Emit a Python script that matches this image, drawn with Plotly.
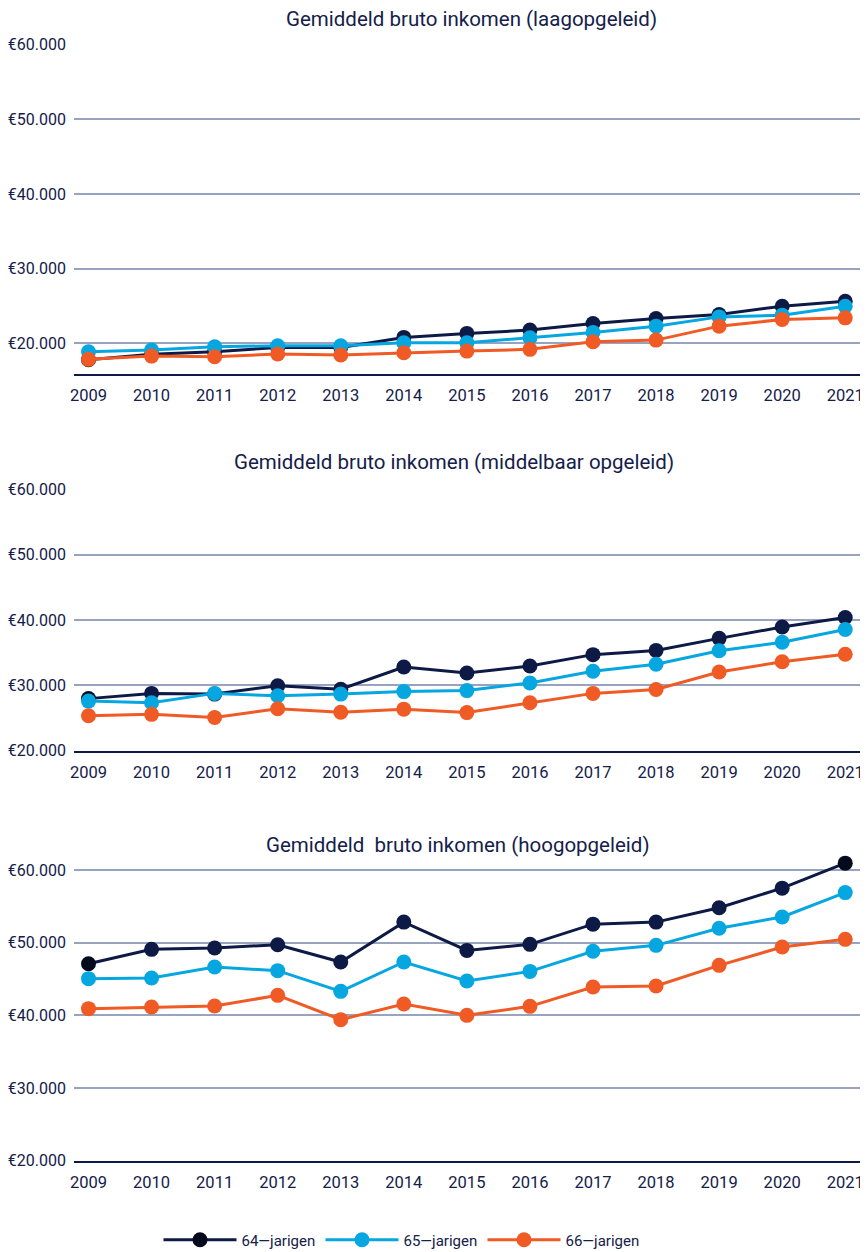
import plotly.graph_objects as go

years = [2009, 2010, 2011, 2012, 2013, 2014, 2015, 2016, 2017, 2018, 2019, 2020, 2021]
series_names = ["64\u2014jarigen", "65\u2014jarigen", "66\u2014jarigen"]

# Gemiddeld bruto inkomen (laagopgeleid)
laag_64 = [17800, 18530, 18880, 19460, 19460, 20800, 21340, 21780, 22670, 23340, 23870, 24980, 25650]
laag_65 = [18880, 19100, 19550, 19680, 19680, 20080, 20080, 20750, 21470, 22310, 23550, 23780, 24980]
laag_66 = [17860, 18300, 18210, 18570, 18440, 18750, 18970, 19200, 20220, 20440, 22310, 23200, 23420]

# Gemiddeld bruto inkomen (middelbaar opgeleid)
midd_64 = [27970, 28770, 28660, 29950, 29410, 32810, 31890, 32970, 34700, 35350, 37190, 38920, 40380]
midd_65 = [27590, 27330, 28770, 28400, 28660, 29040, 29200, 30370, 32160, 33240, 35300, 36590, 38540]
midd_66 = [25350, 25560, 25080, 26420, 25880, 26360, 25830, 27330, 28770, 29360, 32050, 33620, 34760]

# Gemiddeld bruto inkomen (hoogopgeleid)
hoog_64 = [47110, 49080, 49270, 49720, 47340, 52830, 48940, 49770, 52550, 52830, 54810, 57500, 60940]
hoog_65 = [45050, 45140, 46650, 46150, 43300, 47340, 44720, 46050, 48810, 49630, 51980, 53540, 56890]
hoog_66 = [40920, 41150, 41280, 42750, 39410, 41560, 40000, 41240, 43900, 44040, 46880, 49400, 50460]

titles = [
    "Gemiddeld bruto inkomen (laagopgeleid)",
    "Gemiddeld bruto inkomen (middelbaar opgeleid)",
    "Gemiddeld  bruto inkomen (hoogopgeleid)",
]
ytick_vals = [20000, 30000, 40000, 50000, 60000]
ytick_text = ["\u20ac20.000", "\u20ac30.000", "\u20ac40.000", "\u20ac50.000", "\u20ac60.000"]

W, H = 868, 1252
OFF = 8  # page body margin offset in the browser
FONT = "Roboto, Liberation Sans, sans-serif"
NAVY = "#0d1a45"
BLACK = "#050a1c"
TXT = "#14204a"
GRID = "#98a3bf"
colors = ["#0d1a45", "#06a7e0", "#f05a24"]

panels = [
    dict(data=[laag_64, laag_65, laag_66], top=44.7, bottom=374.3, yr=[15860, 60000],
         title_y=19.5, title_x=471),
    dict(data=[midd_64, midd_65, midd_66], top=489.3, bottom=750.7, yr=[20000, 60000],
         title_y=462, title_x=454),
    dict(data=[hoog_64, hoog_65, hoog_66], top=859.1, bottom=1160.7, yr=[20000, 61500],
         title_y=845, title_x=457.5),
]

x0_px, x1_px = 74 - OFF, 861 - OFF
xr = [2008.77, 2021.25]


def fy(px):
    return 1 - (px - OFF) / H


fig = go.Figure()
annotations = []
for i, p in enumerate(panels):
    idx = "" if i == 0 else str(i + 1)
    for s in range(3):
        mcol = colors[s]
        if s == 0:
            mcol = [colors[0]] * len(years)
            mcol[0] = BLACK
            if i == 2:
                mcol[-1] = BLACK
        fig.add_trace(go.Scatter(
            x=years, y=p["data"][s], mode="lines+markers",
            name=series_names[s], legendgroup=series_names[s],
            showlegend=(i == 0),
            line=dict(color=colors[s], width=3),
            marker=dict(color=mcol, size=15),
            xaxis="x" + idx, yaxis="y" + idx, cliponaxis=False,
        ))
    fig.layout["xaxis" + idx] = dict(
        domain=[x0_px / W, x1_px / W], range=xr, anchor="y" + idx,
        tickvals=years, ticktext=[str(y) for y in years],
        showgrid=False, zeroline=False, showline=True, linecolor=NAVY, linewidth=2,
        ticks="", tickfont=dict(family=FONT, size=16.5, color=TXT),
        ticklabelstandoff=5, automargin=False, ticklabeloverflow="allow",
    )
    fig.layout["yaxis" + idx] = dict(
        domain=[fy(p["bottom"]), fy(p["top"])], range=p["yr"], anchor="x" + idx,
        tickvals=ytick_vals, ticktext=ytick_text,
        showgrid=True, gridcolor=GRID, gridwidth=1.5, zeroline=False, showline=False,
        ticks="", tickfont=dict(family=FONT, size=16, color=TXT),
        ticklabelstandoff=7, automargin=False, ticklabeloverflow="allow",
    )
    annotations.append(dict(
        text=titles[i], x=(p["title_x"] - OFF) / W, y=fy(p["title_y"]),
        xref="paper", yref="paper", xanchor="center", yanchor="middle",
        showarrow=False, borderpad=0,
        font=dict(family=FONT, size=20.5, color=TXT),
    ))

fig.update_layout(
    width=W, height=H, margin=dict(l=0, r=0, t=0, b=0),
    paper_bgcolor="white", plot_bgcolor="white",
    annotations=annotations,
    legend=dict(orientation="h", x=(401.5 - OFF) / W, y=fy(1240), xanchor="center", yanchor="middle",
                font=dict(family=FONT, size=15, color=TXT), itemwidth=73,
                entrywidth=74, traceorder="normal"),
    showlegend=True,
)

fig.write_html("out.html")
